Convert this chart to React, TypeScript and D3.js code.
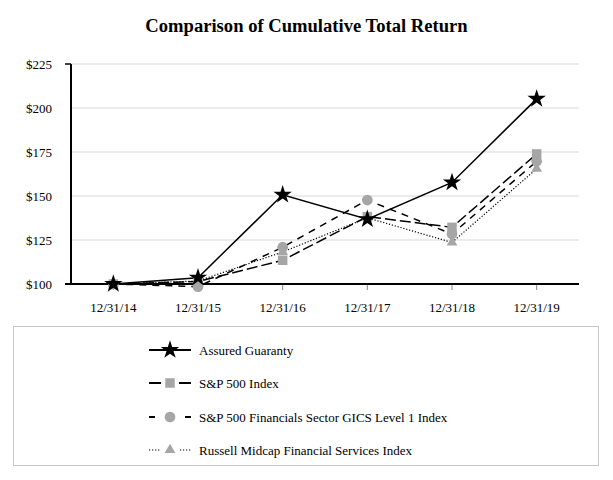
import React, { useRef, useEffect } from 'react';
import * as d3 from 'd3';

const dates = ['12/31/14', '12/31/15', '12/31/16', '12/31/17', '12/31/18', '12/31/19'];
const assuredGuaranty = [100, 103.6, 150.7, 136.8, 157.7, 205.2];
const sp500 = [100, 101.4, 113.5, 138.3, 132.2, 173.9];
const spFinancials = [100, 98.5, 120.9, 147.7, 128.4, 169.7];
const russellMidcap = [100, 101.7, 118.2, 137.6, 123.6, 165.5];
const yTicks = [100, 125, 150, 175, 200, 225];

const seriesNames = [
  'Assured Guaranty',
  'S&P 500 Index',
  'S&P 500 Financials Sector GICS Level 1 Index',
  'Russell Midcap Financial Services Index',
];

const GRAY = '#a6a6a6';
const FONT = '"Liberation Serif", "Times New Roman", serif';

const App = () => {
  const ref = useRef<SVGSVGElement>(null);

  useEffect(() => {
    const svg = d3.select(ref.current);
    svg.selectAll('*').remove();

    const left = 71, right = 579, top = 64, bottom = 284;

    const x = d3.scalePoint<string>().domain(dates).range([left, right]).padding(0.5);
    const y = d3.scaleLinear().domain([100, 225]).range([bottom, top]);

    // title
    svg.append('text')
      .attr('x', 306.5).attr('y', 32)
      .attr('text-anchor', 'middle')
      .attr('font-family', FONT)
      .attr('font-weight', 'bold')
      .attr('font-size', 18.6)
      .text('Comparison of Cumulative Total Return');

    // gridlines
    svg.append('g').selectAll('line')
      .data(yTicks.filter(d => d !== 100))
      .enter().append('line')
      .attr('x1', left).attr('x2', right)
      .attr('y1', d => y(d)).attr('y2', d => y(d))
      .attr('stroke', '#e6e6e6').attr('stroke-width', 1.5);

    // y labels
    svg.append('g').selectAll('text')
      .data(yTicks)
      .enter().append('text')
      .attr('x', 52).attr('y', d => y(d))
      .attr('dy', '0.35em')
      .attr('text-anchor', 'end')
      .attr('font-family', FONT)
      .attr('font-size', 13)
      .text(d => `$${d}`);

    // x ticks + labels
    svg.append('g').selectAll('line')
      .data(dates)
      .enter().append('line')
      .attr('x1', d => x(d)!).attr('x2', d => x(d)!)
      .attr('y1', bottom).attr('y2', bottom + 6)
      .attr('stroke', '#888').attr('stroke-width', 1);

    svg.append('g').selectAll('text')
      .data(dates)
      .enter().append('text')
      .attr('x', d => x(d)!).attr('y', 312)
      .attr('text-anchor', 'middle')
      .attr('font-family', FONT)
      .attr('font-size', 13)
      .text(d => d);

    // axes
    svg.append('line')
      .attr('x1', left).attr('x2', left).attr('y1', top).attr('y2', bottom)
      .attr('stroke', '#000').attr('stroke-width', 2);
    svg.append('line')
      .attr('x1', 65).attr('x2', left).attr('y1', top).attr('y2', top)
      .attr('stroke', '#000').attr('stroke-width', 1.5);
    svg.append('line')
      .attr('x1', 65).attr('x2', right).attr('y1', bottom).attr('y2', bottom)
      .attr('stroke', '#000').attr('stroke-width', 2);

    const series = [
      { name: seriesNames[0], values: assuredGuaranty, dash: null, width: 1.5, symbol: d3.symbolStar, size: 105, fill: '#000', leg: 41 },
      { name: seriesNames[1], values: sp500, dash: '11,4', width: 1.5, symbol: d3.symbolSquare, size: 90, fill: GRAY, leg: 12 },
      { name: seriesNames[2], values: spFinancials, dash: '7,6', width: 1.5, symbol: d3.symbolCircle, size: 90, fill: GRAY, leg: 6 },
      { name: seriesNames[3], values: russellMidcap, dash: '1.2,1.8', width: 1.2, symbol: d3.symbolTriangle, size: 50, fill: GRAY, leg: 11 },
    ];

    const line = d3.line<number>()
      .x((_, i) => x(dates[i])!)
      .y(d => y(d));

    series.forEach(s => {
      svg.append('path')
        .attr('d', line(s.values)!)
        .attr('fill', 'none')
        .attr('stroke', '#000')
        .attr('stroke-width', s.width)
        .attr('stroke-dasharray', s.dash);
    });

    // markers, stars on top
    [1, 2, 3, 0].forEach(k => {
      const s = series[k];
      svg.append('g').selectAll('path')
        .data(s.values)
        .enter().append('path')
        .attr('transform', (d, i) => `translate(${x(dates[i])},${y(d)})`)
        .attr('d', d3.symbol().type(s.symbol).size(s.size)()!)
        .attr('fill', s.fill);
    });

    // legend
    svg.append('rect')
      .attr('x', 13.5).attr('y', 326.5).attr('width', 585).attr('height', 139)
      .attr('fill', 'none').attr('stroke', '#c8c8c8').attr('stroke-width', 1);

    const legRows = [350, 383, 417, 450];
    const lx0 = 149, lx1 = 191, lm = 170;
    series.forEach((s, i) => {
      const g = svg.append('g').attr('transform', `translate(0,${legRows[i]})`);
      const segs = s.leg >= 41 ? [[lx0, lx1]] : [[lx0, lx0 + s.leg], [lx1 - s.leg, lx1]];
      segs.forEach(([a, b]) => {
        g.append('line')
          .attr('x1', a).attr('x2', b).attr('y1', 0).attr('y2', 0)
          .attr('stroke', '#000')
          .attr('stroke-width', i === 3 ? 1 : 2)
          .attr('stroke-dasharray', i === 3 ? '1.2,1.8' : null);
      });
      g.append('path')
        .attr('transform', `translate(${lm},0)`)
        .attr('d', d3.symbol().type(s.symbol).size(s.size)()!)
        .attr('fill', s.fill);
      g.append('text')
        .attr('x', 199).attr('y', 0).attr('dy', '0.35em')
        .attr('font-family', FONT)
        .attr('font-size', 13)
        .text(s.name);
    });
  }, []);

  return (
    <svg ref={ref} width={613} height={480}
      style={{ position: 'absolute', left: 0, top: 0, background: '#fff' }} />
  );
};

export default App;
